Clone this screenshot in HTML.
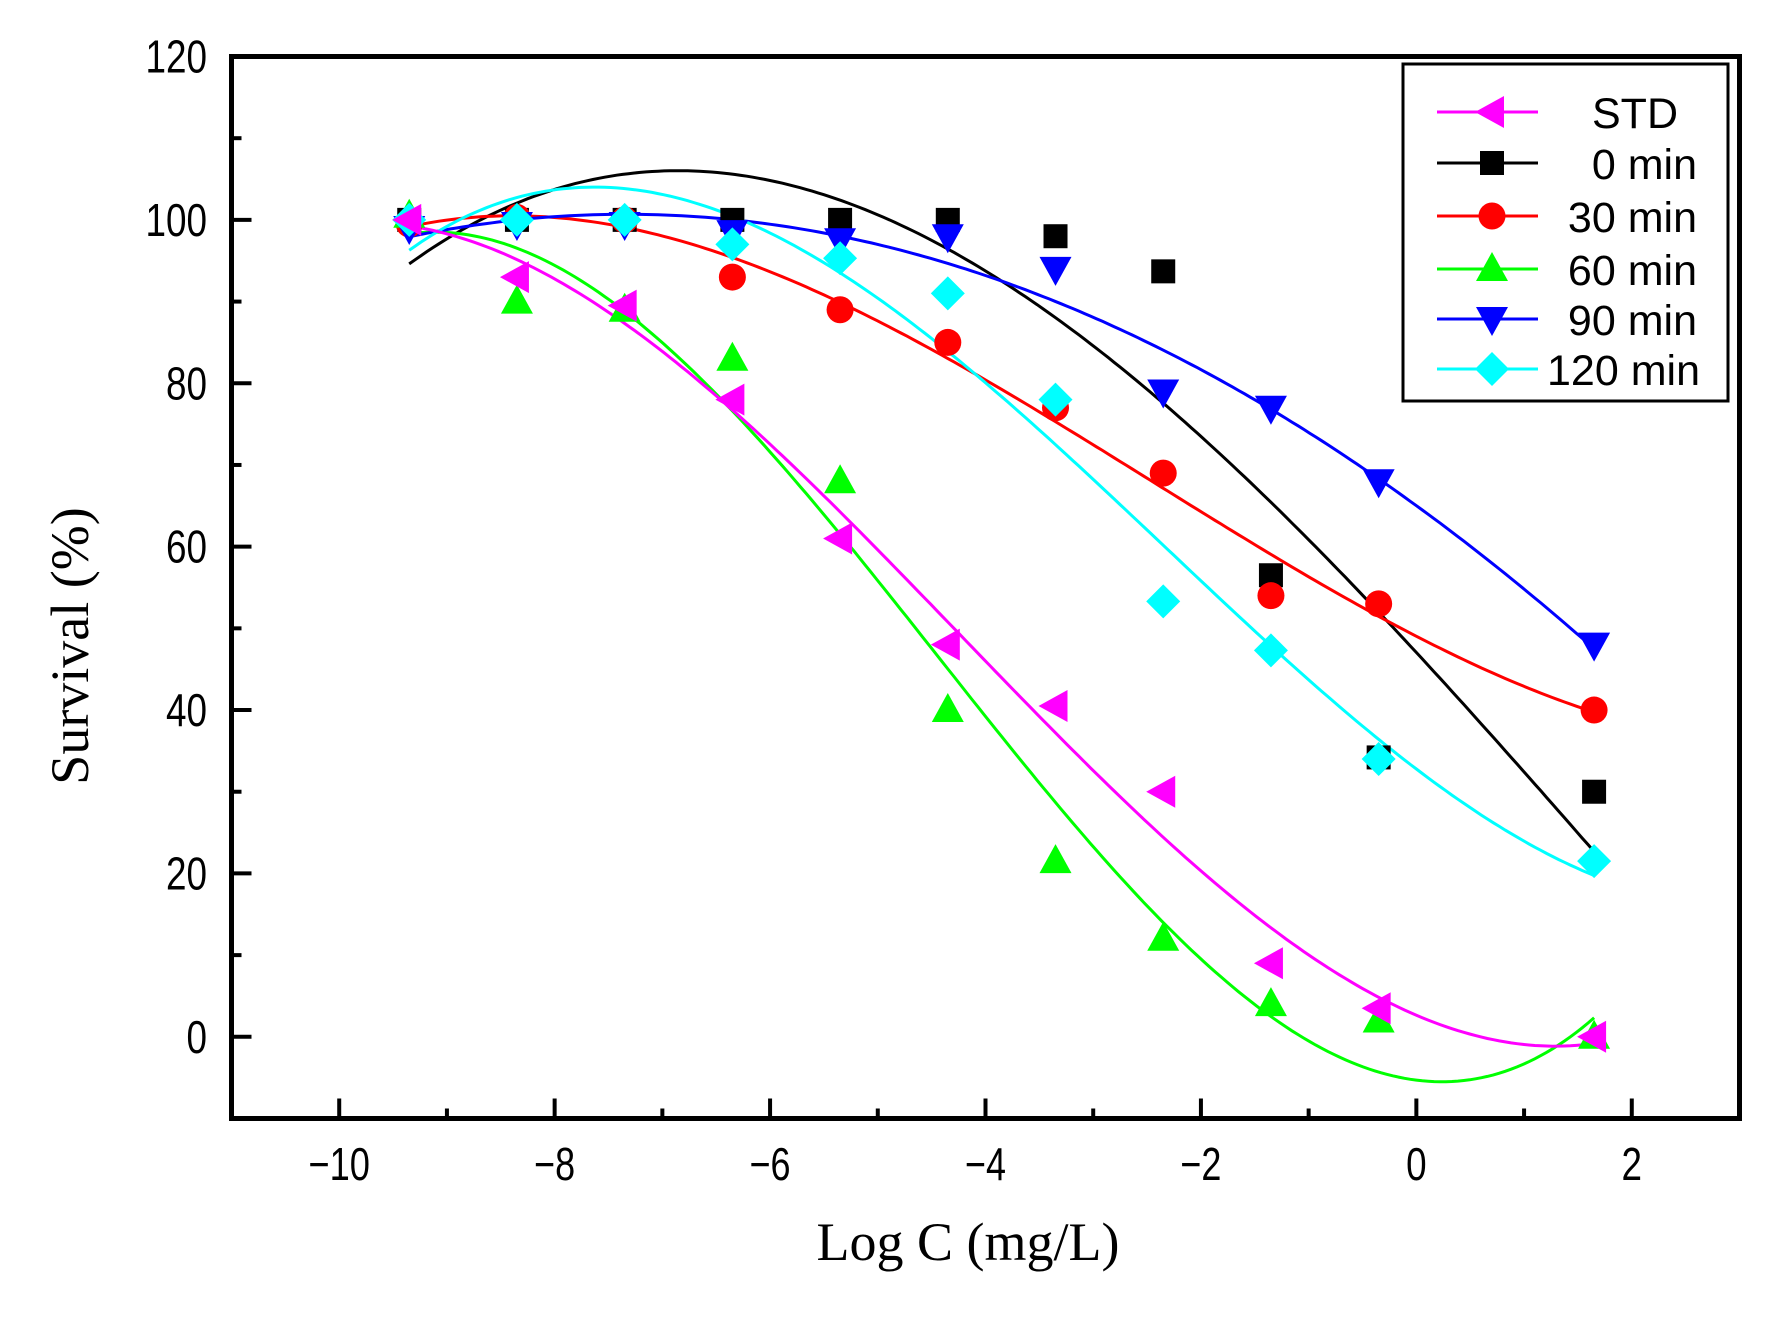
<!DOCTYPE html>
<html><head><meta charset="utf-8"><style>
html,body{margin:0;padding:0;background:#fff;}
svg{display:block;}
</style></head><body>
<svg id="chart" width="1790" height="1320" viewBox="0 0 1790 1320" xmlns="http://www.w3.org/2000/svg">
<rect x="0" y="0" width="1790" height="1320" fill="#fff"/>
<g id="curves"></g>
<g id="marks"></g>
<g id="axes"></g>
<rect x="231.5" y="56.5" width="1508" height="1062" fill="none" stroke="#000" stroke-width="5"/>
<text x="968" y="1260" text-anchor="middle" font-family="Liberation Serif, serif" font-size="54">Log C (mg/L)</text>
<text transform="translate(88,646) rotate(-90)" text-anchor="middle" font-family="Liberation Serif, serif" font-size="54">Survival (%)</text>
<g id="legend">
<rect x="1403" y="64" width="325" height="337" fill="#fff" stroke="#000" stroke-width="3"/>
</g>
</svg>
<script>
const xs = [-9.35, -8.35, -7.35, -6.35, -5.35, -4.35, -3.35, -2.35, -1.35, -0.35, 1.65];
const seriesNames = ['STD', '0 min', '30 min', '60 min', '90 min', '120 min'];
const stdVals = [100, 93, 89.5, 78, 61, 48, 40.5, 30, 9, 3.5, 0];
const min0Vals = [100, 100, 100, 100, 100, 100, 98, 93.7, 56.5, 34.2, 30];
const min30Vals = [99.5, 100.3, 100, 93, 89, 85, 77, 69, 54, 53, 40];
const min60Vals = [100.5, 90, 89, 83, 68, 40, 21.5, 12, 4, 2, 0];
const min90Vals = [99, 99.5, 99.5, 98.5, 97.5, 98, 94, 79, 77, 68, 48];
const min120Vals = [100, 100, 100, 97, 95.3, 91, 78, 53.3, 47.3, 34, 21.5];
const xTicks = [-10, -8, -6, -4, -2, 0, 2];
const xTickLabels = ['\u221210', '\u22128', '\u22126', '\u22124', '\u22122', '0', '2'];
const yTicks = [0, 20, 40, 60, 80, 100, 120];
const yTickLabels = ['0', '20', '40', '60', '80', '100', '120'];

const NS = 'http://www.w3.org/2000/svg';
const X0 = 231.5, X1 = 1739.5, Y0 = 1118.5, Y1 = 56.5;
const xMin = -11, xMax = 3, yMin = -10, yMax = 120;
function sx(v){ return X0 + (v - xMin) / (xMax - xMin) * (X1 - X0); }
function sy(v){ return Y0 - (v - yMin) / (yMax - yMin) * (Y0 - Y1); }
function mk(tag, attrs, parent){ const e = document.createElementNS(NS, tag); for (const k in attrs) e.setAttribute(k, attrs[k]); parent.appendChild(e); return e; }

const axes = document.getElementById('axes');
xTicks.forEach((t, i) => {
  const tk = mk('line', {x1: sx(t), x2: sx(t), y1: Y0, y2: Y0 - 20, stroke: '#000', 'stroke-width': 4}, axes);
  
  
  if (i < xTicks.length - 1) {
    const mt = mk('line', {x1: sx(t + 1), x2: sx(t + 1), y1: Y0, y2: Y0 - 10, stroke: '#000', 'stroke-width': 4}, axes);
    
    
  }
  const lb = mk('text', {x: sx(t), y: 1180, 'text-anchor': 'middle', 'font-family': 'Liberation Sans, sans-serif', 'font-size': 46, textLength: 20.5 * xTickLabels[i].length, lengthAdjust: 'spacingAndGlyphs'}, axes);
  lb.textContent = xTickLabels[i];
  
  
});
yTicks.forEach((t, i) => {
  const tk = mk('line', {x1: X0, x2: X0 + 20, y1: sy(t), y2: sy(t), stroke: '#000', 'stroke-width': 4}, axes);
  
  
  const mv = t - 10;
  const mt = mk('line', {x1: X0, x2: X0 + 10, y1: sy(mv), y2: sy(mv), stroke: '#000', 'stroke-width': 4}, axes);
  
  
  const lb = mk('text', {x: 207, y: sy(t) + 16, 'text-anchor': 'end', 'font-family': 'Liberation Sans, sans-serif', 'font-size': 46, textLength: 20.5 * yTickLabels[i].length, lengthAdjust: 'spacingAndGlyphs'}, axes);
  lb.textContent = yTickLabels[i];
  
  
});

function cubicFit(x, y){
  const n = 4; const A = []; const b = [];
  for (let i = 0; i < n; i++){ A.push(new Array(n).fill(0)); b.push(0); }
  for (let k = 0; k < x.length; k++){
    const p = [1, x[k], x[k]*x[k], x[k]*x[k]*x[k]];
    for (let i = 0; i < n; i++){ b[i] += p[i]*y[k]; for (let j = 0; j < n; j++) A[i][j] += p[i]*p[j]; }
  }
  for (let i = 0; i < n; i++){
    let m = i; for (let r = i+1; r < n; r++) if (Math.abs(A[r][i]) > Math.abs(A[m][i])) m = r;
    [A[i], A[m]] = [A[m], A[i]]; [b[i], b[m]] = [b[m], b[i]];
    for (let r = i+1; r < n; r++){ const f = A[r][i]/A[i][i]; for (let j = i; j < n; j++) A[r][j] -= f*A[i][j]; b[r] -= f*b[i]; }
  }
  const c = new Array(n).fill(0);
  for (let i = n-1; i >= 0; i--){ let s = b[i]; for (let j = i+1; j < n; j++) s -= A[i][j]*c[j]; c[i] = s/A[i][i]; }
  return v => c[0] + c[1]*v + c[2]*v*v + c[3]*v*v*v;
}

const colors = ['#ff00ff', '#000000', '#ff0000', '#00ff00', '#0000ff', '#00ffff'];
const shapes = ['left', 'square', 'circle', 'up', 'down', 'diamond'];
const allVals = [stdVals, min0Vals, min30Vals, min60Vals, min90Vals, min120Vals];
const curvesG = document.getElementById('curves');
const marksG = document.getElementById('marks');

function marker(shape, cx, cy, color, parent){
  let e;
  if (shape === 'square') e = mk('rect', {x: cx - 12, y: cy - 12, width: 24, height: 24, fill: color}, parent);
  else if (shape === 'circle') e = mk('circle', {cx: cx, cy: cy, r: 13.5, fill: color}, parent);
  else if (shape === 'up') e = mk('polygon', {points: `${cx},${cy-17} ${cx-16},${cy+12} ${cx+16},${cy+12}`, fill: color}, parent);
  else if (shape === 'down') e = mk('polygon', {points: `${cx},${cy+17} ${cx-16},${cy-12} ${cx+16},${cy-12}`, fill: color}, parent);
  else if (shape === 'left') e = mk('polygon', {points: `${cx-17},${cy} ${cx+12},${cy-16} ${cx+12},${cy+16}`, fill: color}, parent);
  else e = mk('polygon', {points: `${cx},${cy-17} ${cx+17},${cy} ${cx},${cy+17} ${cx-17},${cy}`, fill: color}, parent);
  return e;
}

const drawOrder = [1, 2, 3, 4, 5, 0];
drawOrder.forEach(s => {
  const f = cubicFit(xs, allVals[s]);
  let d = '';
  const a = xs[0], z = xs[xs.length - 1];
  for (let i = 0; i <= 200; i++){ const v = a + (z - a) * i / 200; d += (i ? 'L' : 'M') + sx(v).toFixed(1) + ',' + sy(f(v)).toFixed(1); }
  const p = mk('path', {d: d, fill: 'none', stroke: colors[s], 'stroke-width': 3}, curvesG);
  
  
});
drawOrder.forEach(s => {
  allVals[s].forEach((v, i) => {
    const m = marker(shapes[s], sx(xs[i]), sy(v), colors[s], marksG);
    
    
  });
});

const legendG = document.getElementById('legend');
const legY = [112, 163, 216, 269, 319, 369];
const legEnd = [1678, 1697, 1697, 1697, 1697, 1700];
seriesNames.forEach((nm, i) => {
  const ln = mk('line', {x1: 1437, x2: 1538, y1: legY[i], y2: legY[i], stroke: colors[i], 'stroke-width': 3}, legendG);
  
  
  const m = marker(shapes[i], 1492, legY[i], colors[i], legendG);
  
  
  const t = mk('text', {x: legEnd[i], y: legY[i] + 16, 'text-anchor': 'end', 'font-family': 'Liberation Sans, sans-serif', 'font-size': 43}, legendG);
  t.textContent = nm;
  
  
});
</script>
</body></html>
